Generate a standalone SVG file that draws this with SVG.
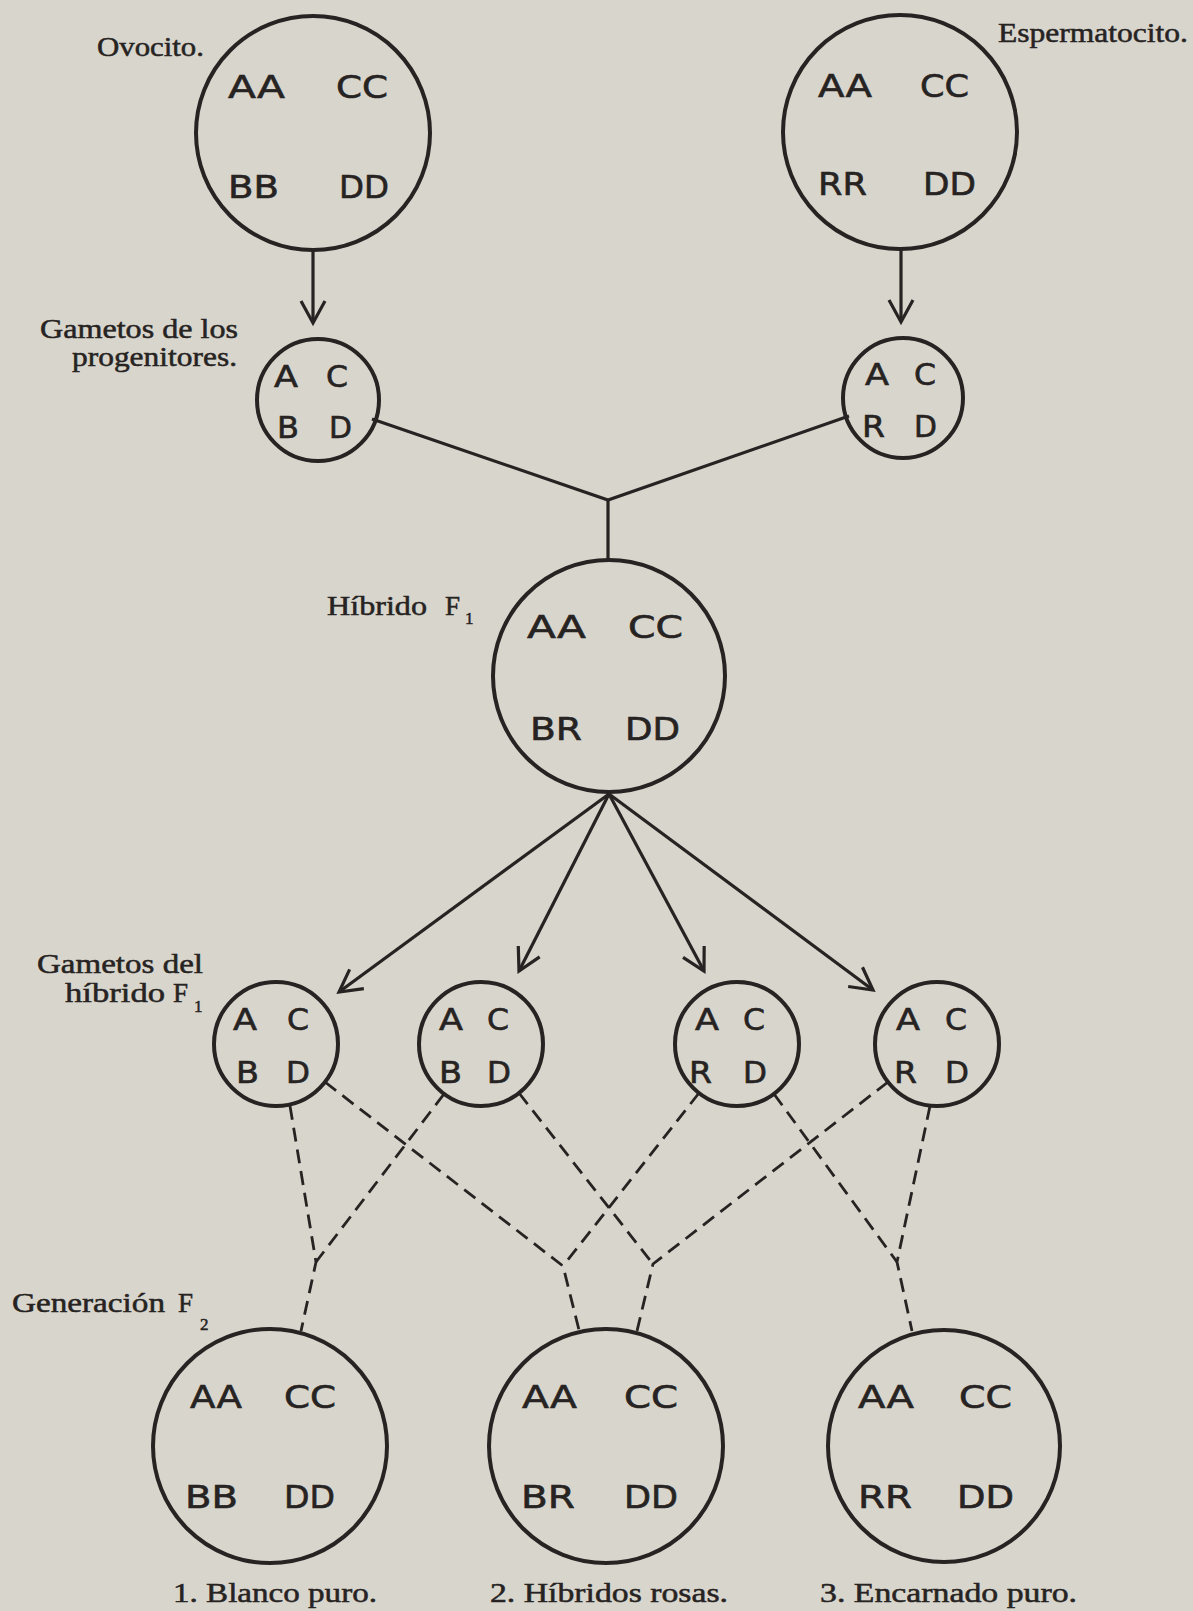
<svg xmlns="http://www.w3.org/2000/svg" width="1193" height="1611" viewBox="0 0 1193 1611">
  <style>
    .cell { fill: none; stroke: #262322; stroke-width: 4; }
    .gene { font-family: "DejaVu Sans", "Liberation Sans", sans-serif; fill: #262322; stroke: #262322; stroke-width: 0.6; }
    .big { font-size: 32px; }
    .small { font-size: 30px; }
    .label { font-family: "Liberation Serif", "DejaVu Serif", serif; font-size: 27px; fill: #262322; stroke: #262322; stroke-width: 0.5; }
    .sub { font-size: 17px; }
    .link { fill: none; stroke: #262322; stroke-width: 3.2; }
    .dash { fill: none; stroke: #262322; stroke-width: 2.8; stroke-dasharray: 14 8; }
  </style>
  <defs>
    <marker id="arrow" markerUnits="userSpaceOnUse" markerWidth="30" markerHeight="30" viewBox="0 0 30 30" refX="26" refY="15" orient="auto">
      <path d="M4,3 L26,15 L4,27" fill="none" stroke="#262322" stroke-width="3.2" stroke-linejoin="miter"/>
    </marker>
  </defs>

  <rect width="1193" height="1611" fill="#d8d5cc"/>

  <!-- connectors -->
  <g id="connectors">
    <line class="link" x1="313" y1="251" x2="313" y2="323" marker-end="url(#arrow)"/>
    <line class="link" x1="901" y1="250" x2="901" y2="322" marker-end="url(#arrow)"/>
    <polyline class="link" points="372,419 608,500 849,416"/>
    <line class="link" x1="608" y1="500" x2="608" y2="561"/>
    <line class="link" x1="609" y1="794" x2="339" y2="992" marker-end="url(#arrow)"/>
    <line class="link" x1="609" y1="794" x2="519" y2="971" marker-end="url(#arrow)"/>
    <line class="link" x1="609" y1="794" x2="704" y2="971" marker-end="url(#arrow)"/>
    <line class="link" x1="609" y1="794" x2="873" y2="990" marker-end="url(#arrow)"/>
    <!-- gamete combinations -->
    <polyline class="dash" points="290,1106 316,1262 301,1331"/>
    <line class="dash" x1="444" y1="1094" x2="316" y2="1262"/>
    <polyline class="dash" points="325,1082 563,1266 579,1330"/>
    <line class="dash" x1="699" y1="1093" x2="563" y2="1266"/>
    <polyline class="dash" points="888,1082 653,1264 637,1331"/>
    <line class="dash" x1="519" y1="1093" x2="653" y2="1264"/>
    <polyline class="dash" points="930,1106 897,1262 912,1331"/>
    <line class="dash" x1="774" y1="1094" x2="897" y2="1262"/>
  </g>

  <!-- parents -->
  <g id="ovocito">
    <circle class="cell" cx="313" cy="133" r="117"/>
    <text class="gene big" x="228" y="98" textLength="57" lengthAdjust="spacingAndGlyphs">AA</text>
    <text class="gene big" x="336" y="98" textLength="52" lengthAdjust="spacingAndGlyphs">CC</text>
    <text class="gene big" x="228" y="198" textLength="51" lengthAdjust="spacingAndGlyphs">BB</text>
    <text class="gene big" x="339" y="198" textLength="50" lengthAdjust="spacingAndGlyphs">DD</text>
    <text class="label" x="97" y="56" textLength="107" lengthAdjust="spacingAndGlyphs">Ovocito.</text>
  </g>
  <g id="espermatocito">
    <circle class="cell" cx="900" cy="132" r="117"/>
    <text class="gene big" x="818" y="97" textLength="54" lengthAdjust="spacingAndGlyphs">AA</text>
    <text class="gene big" x="920" y="97" textLength="49" lengthAdjust="spacingAndGlyphs">CC</text>
    <text class="gene big" x="818" y="195" textLength="49" lengthAdjust="spacingAndGlyphs">RR</text>
    <text class="gene big" x="923" y="195" textLength="53" lengthAdjust="spacingAndGlyphs">DD</text>
    <text class="label" x="998" y="42" textLength="190" lengthAdjust="spacingAndGlyphs">Espermatocito.</text>
  </g>

  <!-- parental gametes -->
  <g id="gameto-ovocito">
    <circle class="cell" cx="318" cy="400" r="61"/>
    <text class="gene small" x="274" y="387" textLength="24" lengthAdjust="spacingAndGlyphs">A</text>
    <text class="gene small" x="326" y="387" textLength="22" lengthAdjust="spacingAndGlyphs">C</text>
    <text class="gene small" x="277" y="438" textLength="22" lengthAdjust="spacingAndGlyphs">B</text>
    <text class="gene small" x="329" y="438" textLength="23" lengthAdjust="spacingAndGlyphs">D</text>
    <text class="label" x="40" y="338" textLength="198" lengthAdjust="spacingAndGlyphs">Gametos de los</text>
    <text class="label" x="72" y="366" textLength="165" lengthAdjust="spacingAndGlyphs">progenitores.</text>
  </g>
  <g id="gameto-espermatocito">
    <circle class="cell" cx="903" cy="398" r="60"/>
    <text class="gene small" x="865" y="385" textLength="24" lengthAdjust="spacingAndGlyphs">A</text>
    <text class="gene small" x="914" y="385" textLength="22" lengthAdjust="spacingAndGlyphs">C</text>
    <text class="gene small" x="862" y="437" textLength="23" lengthAdjust="spacingAndGlyphs">R</text>
    <text class="gene small" x="914" y="437" textLength="23" lengthAdjust="spacingAndGlyphs">D</text>
  </g>

  <!-- F1 hybrid -->
  <g id="hibrido-f1">
    <circle class="cell" cx="609" cy="676" r="116"/>
    <text class="gene big" x="527" y="638" textLength="59" lengthAdjust="spacingAndGlyphs">AA</text>
    <text class="gene big" x="628" y="638" textLength="55" lengthAdjust="spacingAndGlyphs">CC</text>
    <text class="gene big" x="530" y="740" textLength="52" lengthAdjust="spacingAndGlyphs">BR</text>
    <text class="gene big" x="625" y="740" textLength="55" lengthAdjust="spacingAndGlyphs">DD</text>
    <text class="label" x="327" y="615"><tspan textLength="100" lengthAdjust="spacingAndGlyphs">Híbrido</tspan><tspan x="445">F</tspan><tspan class="sub" x="465" dy="9">1</tspan></text>
  </g>

  <!-- F1 gametes -->
  <g id="gameto-f1-1">
    <circle class="cell" cx="276" cy="1044" r="62"/>
    <text class="gene small" x="233" y="1030" textLength="24" lengthAdjust="spacingAndGlyphs">A</text>
    <text class="gene small" x="287" y="1030" textLength="22" lengthAdjust="spacingAndGlyphs">C</text>
    <text class="gene small" x="236" y="1083" textLength="23" lengthAdjust="spacingAndGlyphs">B</text>
    <text class="gene small" x="286" y="1083" textLength="24" lengthAdjust="spacingAndGlyphs">D</text>
    <text class="label" x="37" y="973" textLength="166" lengthAdjust="spacingAndGlyphs">Gametos del</text>
    <text class="label" x="65" y="1002"><tspan textLength="100" lengthAdjust="spacingAndGlyphs">híbrido</tspan><tspan x="173">F</tspan><tspan class="sub" x="194" dy="10">1</tspan></text>
  </g>
  <g id="gameto-f1-2">
    <circle class="cell" cx="481" cy="1044" r="62"/>
    <text class="gene small" x="439" y="1030" textLength="24" lengthAdjust="spacingAndGlyphs">A</text>
    <text class="gene small" x="487" y="1030" textLength="22" lengthAdjust="spacingAndGlyphs">C</text>
    <text class="gene small" x="439" y="1083" textLength="23" lengthAdjust="spacingAndGlyphs">B</text>
    <text class="gene small" x="487" y="1083" textLength="24" lengthAdjust="spacingAndGlyphs">D</text>
  </g>
  <g id="gameto-f1-3">
    <circle class="cell" cx="737" cy="1044" r="62"/>
    <text class="gene small" x="695" y="1030" textLength="24" lengthAdjust="spacingAndGlyphs">A</text>
    <text class="gene small" x="743" y="1030" textLength="22" lengthAdjust="spacingAndGlyphs">C</text>
    <text class="gene small" x="689" y="1083" textLength="23" lengthAdjust="spacingAndGlyphs">R</text>
    <text class="gene small" x="743" y="1083" textLength="24" lengthAdjust="spacingAndGlyphs">D</text>
  </g>
  <g id="gameto-f1-4">
    <circle class="cell" cx="937" cy="1044" r="62"/>
    <text class="gene small" x="896" y="1030" textLength="24" lengthAdjust="spacingAndGlyphs">A</text>
    <text class="gene small" x="945" y="1030" textLength="22" lengthAdjust="spacingAndGlyphs">C</text>
    <text class="gene small" x="894" y="1083" textLength="23" lengthAdjust="spacingAndGlyphs">R</text>
    <text class="gene small" x="945" y="1083" textLength="24" lengthAdjust="spacingAndGlyphs">D</text>
  </g>

  <!-- F2 generation -->
  <g id="f2-blanco">
    <circle class="cell" cx="270" cy="1446" r="117"/>
    <text class="gene big" x="190" y="1408" textLength="52" lengthAdjust="spacingAndGlyphs">AA</text>
    <text class="gene big" x="284" y="1408" textLength="52" lengthAdjust="spacingAndGlyphs">CC</text>
    <text class="gene big" x="185" y="1508" textLength="53" lengthAdjust="spacingAndGlyphs">BB</text>
    <text class="gene big" x="284" y="1508" textLength="51" lengthAdjust="spacingAndGlyphs">DD</text>
    <text class="label" x="12" y="1312"><tspan textLength="153" lengthAdjust="spacingAndGlyphs">Generación</tspan><tspan x="178">F</tspan><tspan class="sub" x="200" dy="18">2</tspan></text>
    <text class="label" x="173" y="1602" textLength="204" lengthAdjust="spacingAndGlyphs">1. Blanco puro.</text>
  </g>
  <g id="f2-rosas">
    <circle class="cell" cx="606" cy="1446" r="117"/>
    <text class="gene big" x="522" y="1408" textLength="55" lengthAdjust="spacingAndGlyphs">AA</text>
    <text class="gene big" x="624" y="1408" textLength="54" lengthAdjust="spacingAndGlyphs">CC</text>
    <text class="gene big" x="521" y="1508" textLength="54" lengthAdjust="spacingAndGlyphs">BR</text>
    <text class="gene big" x="624" y="1508" textLength="54" lengthAdjust="spacingAndGlyphs">DD</text>
    <text class="label" x="490" y="1602" textLength="238" lengthAdjust="spacingAndGlyphs">2. Híbridos rosas.</text>
  </g>
  <g id="f2-encarnado">
    <circle class="cell" cx="944" cy="1446" r="116"/>
    <text class="gene big" x="858" y="1408" textLength="56" lengthAdjust="spacingAndGlyphs">AA</text>
    <text class="gene big" x="959" y="1408" textLength="53" lengthAdjust="spacingAndGlyphs">CC</text>
    <text class="gene big" x="858" y="1508" textLength="54" lengthAdjust="spacingAndGlyphs">RR</text>
    <text class="gene big" x="957" y="1508" textLength="57" lengthAdjust="spacingAndGlyphs">DD</text>
    <text class="label" x="820" y="1602" textLength="257" lengthAdjust="spacingAndGlyphs">3. Encarnado puro.</text>
  </g>
</svg>
